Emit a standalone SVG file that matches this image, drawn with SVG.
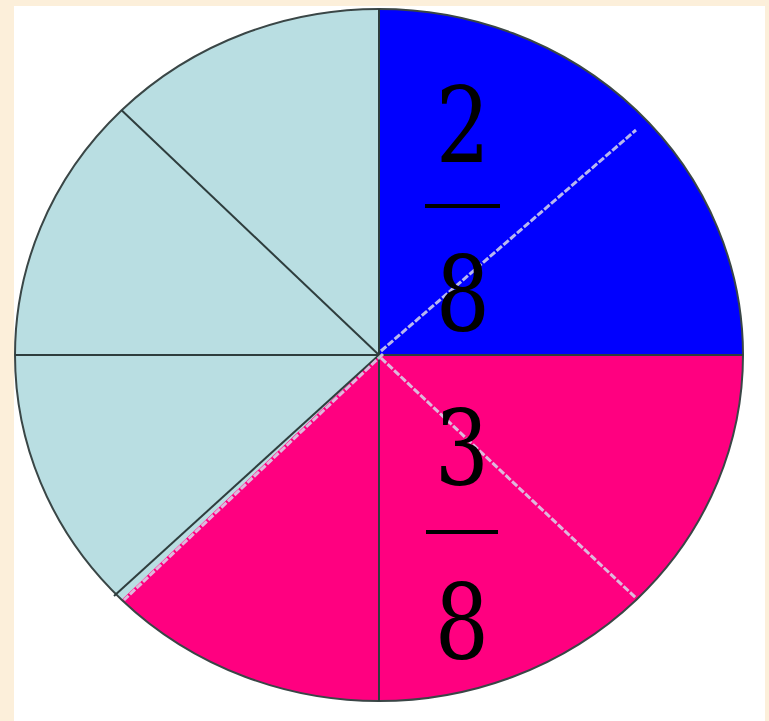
<svg xmlns="http://www.w3.org/2000/svg" width="769" height="721" viewBox="0 0 769 721">
<style>
.spoke{stroke:#2e3d3d;stroke-width:2;fill:none}
.dash{stroke:#d8d8ec;stroke-width:3;stroke-dasharray:7 2;fill:none;opacity:0.85}
.num{font-size:104px;fill:#000;text-anchor:middle}
.bar{fill:#000}
</style>
<rect x="0" y="0" width="769" height="721" fill="#fcefda"/>
<rect x="14" y="6" width="751" height="715" fill="#ffffff"/>
<g id="pie">
<path id="lightblue" d="M379,355 L121.6,599.7 A364,346 0 0 1 379,9 Z" fill="#b9dee2"/>
<path id="blue" d="M379,355 L379,9 A364,346 0 0 1 743,355 Z" fill="#0000ff"/>
<path id="pink" d="M379,355 L743,355 A364,346 0 0 1 121.6,599.7 Z" fill="#ff0080"/>
<ellipse cx="379" cy="355" rx="364" ry="346" fill="none" stroke="#3a4646" stroke-width="2"/>
</g>
<g id="connectors">
<line class="spoke" x1="379" y1="9" x2="379" y2="355"/>
<line class="spoke" x1="379" y1="355" x2="379" y2="701" stroke="#6a0840"/>
<line class="spoke" x1="15" y1="355" x2="379" y2="355"/>
<line class="spoke" x1="379" y1="355" x2="743" y2="355" stroke="#3a1060"/>
<line class="spoke" x1="121.6" y1="110.3" x2="379" y2="355"/>
<line class="spoke" x1="379" y1="355" x2="114" y2="596"/>
<line class="dash" x1="383" y1="354" x2="124" y2="600"/>
<line class="dash" x1="381" y1="351" x2="636" y2="130"/>
<line class="dash" x1="381" y1="358" x2="636" y2="598"/>
</g>
<g id="fraction-2-8" font-family="DejaVu Serif">
<text class="num" transform="translate(463,162) scale(0.82,1)">2</text>
<rect class="bar" x="425" y="204" width="75" height="4"/>
<text class="num" transform="translate(463,331) scale(0.82,1)">8</text>
</g>
<g id="fraction-3-8" font-family="DejaVu Serif">
<text class="num" transform="translate(462,485) scale(0.82,1)">3</text>
<rect class="bar" x="426" y="530" width="72" height="4"/>
<text class="num" transform="translate(462,659) scale(0.82,1)">8</text>
</g>
</svg>
